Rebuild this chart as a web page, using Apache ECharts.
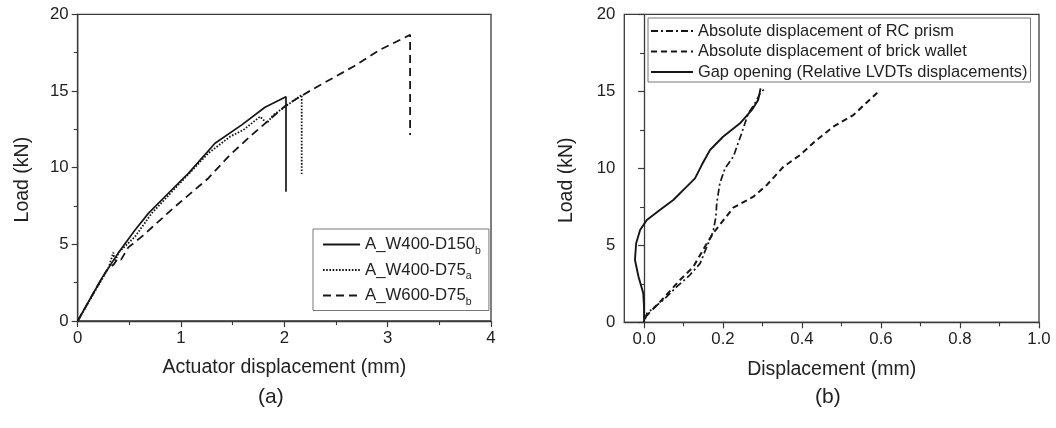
<!DOCTYPE html>
<html>
<head>
<meta charset="utf-8">
<script src="https://cdn.jsdelivr.net/npm/echarts@6/dist/echarts.min.js"></script>
<style>
  html, body { margin: 0; padding: 0; background: #fff; }
  #chart { width: 1056px; height: 428px; }
</style>
</head>
<body>
<div id="chart"></div>
<script>
// ---------- Panel (a): Load vs actuator displacement ----------
const namesA = ['A_W400-D150b', 'A_W400-D75a', 'A_W600-D75b'];
const legendBaseA = ['A_W400-D150', 'A_W400-D75', 'A_W600-D75'];
const legendSubA = ['b', 'a', 'b'];

const a1X = [0, 0.232, 0.39, 0.555, 0.684, 0.877, 1.071, 1.329, 1.588, 1.813, 2.016, 2.016];
const a1Y = [0, 2.78, 4.41, 5.94, 7.02, 8.33, 9.63, 11.59, 12.79, 13.94, 14.63, 8.43];

const a2X = [0, 0.15, 0.25, 0.30, 0.345, 0.36, 0.40, 0.555, 0.716, 0.942, 1.264, 1.474, 1.603, 1.765, 1.80, 1.83, 1.894, 2.168, 2.168];
const a2Y = [0, 1.75, 2.9, 3.5, 4.46, 3.9, 4.5, 5.5, 7.02, 8.65, 10.94, 12.02, 12.46, 13.33, 13.1, 12.9, 13.44, 14.74, 9.59];

const a3X = [0, 0.15, 0.28, 0.35, 0.39, 0.42, 0.49, 0.62, 0.942, 1.264, 1.474, 1.684, 2.02, 2.25, 2.67, 2.93, 3.217, 3.217];
const a3Y = [0, 1.8, 3.3, 3.7, 4.09, 4.0, 4.8, 5.5, 7.46, 9.31, 10.83, 12.13, 14.09, 15.02, 16.6, 17.7, 18.66, 12.13];

// ---------- Panel (b): Load vs displacement ----------
const namesB = ['Absolute displacement of RC prism', 'Absolute displacement of brick wallet', 'Gap opening (Relative LVDTs displacements)'];

const b1X = [0.003, 0.007, 0.049, 0.083, 0.116, 0.142, 0.159, 0.175, 0.182, 0.184, 0.192, 0.205, 0.226, 0.247, 0.264, 0.281, 0.294, 0.306];
const b1Y = [0.2, 0.58, 1.45, 2.31, 3.07, 3.83, 4.91, 5.9, 6.86, 7.73, 9.03, 10.0, 10.75, 12.27, 13.57, 14.22, 14.87, 15.19];

const b2X = [0.004, 0.049, 0.091, 0.125, 0.154, 0.175, 0.2, 0.226, 0.277, 0.311, 0.353, 0.395, 0.437, 0.479, 0.53, 0.596];
const b2Y = [0.36, 1.56, 2.75, 3.61, 4.91, 5.78, 6.6, 7.44, 8.16, 8.92, 10.1, 10.86, 11.84, 12.7, 13.46, 15.04];

const b3X = [0, 0, -0.002, -0.014, -0.023, -0.02, -0.01, 0.007, 0.04, 0.074, 0.108, 0.129, 0.146, 0.167, 0.2, 0.243, 0.273, 0.289, 0.295];
const b3Y = [0, 1.0, 1.88, 2.96, 4.05, 5.13, 5.99, 6.64, 7.29, 7.94, 8.81, 9.35, 10.21, 11.19, 12.05, 12.92, 13.79, 14.44, 15.19];

// ---------- Axis ticks ----------
const ticksXB = [0, 0.2, 0.4, 0.6, 0.8, 1.0];
const minorTicksXB = [0.1, 0.3, 0.5, 0.7, 0.9];

const zip = (xs, ys) => xs.map((x, i) => [x, ys[i]]);

const FONT = '"Liberation Sans", Arial, Helvetica, sans-serif';
const INK = '#161616';
const AXIS = '#3a3a3a';

const axisLineStyle = { show: true, lineStyle: { color: AXIS, width: 1.3 } };
const tickLabel = { color: '#222', fontSize: 16.8, fontFamily: FONT, margin: 9 };
const nameStyle = { color: '#222', fontSize: 19.5, fontFamily: FONT };

function valueY(gridIndex, nameGap) {
  return {
    type: 'value', gridIndex, min: 0, max: 20, interval: 5,
    name: 'Load (kN)', nameLocation: 'middle', nameGap,
    nameTextStyle: Object.assign({ padding: [0, 24, 0, 0] }, nameStyle),
    axisLine: axisLineStyle,
    axisTick: { show: true, length: 6, lineStyle: { color: AXIS, width: 1.2 } },
    minorTick: { show: true, splitNumber: 2, length: 4, lineStyle: { color: AXIS, width: 1.1 } },
    axisLabel: tickLabel,
    splitLine: { show: false }
  };
}

const chart = echarts.init(document.getElementById('chart'), null, { renderer: 'canvas' });

const richA = {
  n: { fontSize: 16.8, fontFamily: FONT, color: '#222', lineHeight: 20 },
  s: { fontSize: 10.5, fontFamily: FONT, color: '#222', lineHeight: 20, verticalAlign: 'bottom', padding: [0, 0, -2, 0] }
};

const legendHideSymbol = { opacity: 0, borderWidth: 0 };

const option = {
  animation: false,
  backgroundColor: '#fff',
  grid: [
    { left: 77.7, right: 565, top: 14.3, bottom: 107, show: true, borderColor: AXIS, borderWidth: 1.3, backgroundColor: 'transparent' },
    { left: 624.3, right: 17, top: 14.3, bottom: 105.7, show: true, borderColor: AXIS, borderWidth: 1.3, backgroundColor: 'transparent' }
  ],
  xAxis: [
    {
      type: 'value', gridIndex: 0, min: 0, max: 4, interval: 1,
      name: 'Actuator displacement (mm)', nameLocation: 'middle', nameGap: 37,
      nameTextStyle: nameStyle,
      axisLine: axisLineStyle,
      axisTick: { show: true, length: 6, lineStyle: { color: AXIS, width: 1.2 } },
      minorTick: { show: true, splitNumber: 2, length: 4, lineStyle: { color: AXIS, width: 1.1 } },
      axisLabel: tickLabel,
      splitLine: { show: false }
    },
    {
      type: 'value', gridIndex: 1, min: -0.05, max: 1.0,
      name: 'Displacement (mm)', nameLocation: 'middle', nameGap: 37,
      nameTextStyle: nameStyle,
      axisLine: axisLineStyle,
      axisTick: { show: true, length: 6, customValues: ticksXB, lineStyle: { color: AXIS, width: 1.2 } },
      axisLabel: Object.assign({ customValues: ticksXB, formatter: v => Number(v).toFixed(1) }, tickLabel),
      splitLine: { show: false }
    },
    {
      type: 'value', gridIndex: 1, min: -0.05, max: 1.0, position: 'bottom',
      axisLine: { show: false },
      axisTick: { show: true, length: 4, customValues: minorTicksXB, lineStyle: { color: AXIS, width: 1.1 } },
      axisLabel: { show: false, customValues: minorTicksXB },
      splitLine: { show: false }
    }
  ],
  yAxis: [valueY(0, 45), valueY(1, 48)],
  legend: [
    {
      data: namesA, orient: 'vertical', left: 313, top: 229,
      padding: [7, 8, 3, 9], itemGap: 5, itemWidth: 37, itemHeight: 14,
      borderColor: '#777', borderWidth: 1, backgroundColor: '#fff',
      itemStyle: legendHideSymbol,
      textStyle: { fontSize: 16.8, fontFamily: FONT, color: '#222', rich: richA },
      formatter: name => {
        const i = namesA.indexOf(name);
        return '{n|' + legendBaseA[i] + '}{s|' + legendSubA[i] + '}';
      }
    },
    {
      data: namesB, orient: 'vertical', left: 648, top: 18,
      padding: [4, 3, 1, 2], itemGap: 2.5, itemWidth: 42, itemHeight: 14,
      borderColor: '#777', borderWidth: 1, backgroundColor: '#fff',
      itemStyle: legendHideSymbol,
      textStyle: { fontSize: 16.4, fontFamily: FONT, color: '#222', lineHeight: 18 }
    }
  ],
  graphic: [
    { type: 'text', left: 258, top: 387, style: { text: '(a)', fontSize: 21, fontFamily: FONT, fill: '#222' } },
    { type: 'text', left: 815, top: 387, style: { text: '(b)', fontSize: 21, fontFamily: FONT, fill: '#222' } }
  ],
  series: [
    { name: namesA[0], type: 'line', xAxisIndex: 0, yAxisIndex: 0, data: zip(a1X, a1Y), symbol: 'none', smooth: false,
      lineStyle: { color: INK, width: 1.7, type: 'solid' }, itemStyle: { color: INK } },
    { name: namesA[1], type: 'line', xAxisIndex: 0, yAxisIndex: 0, data: zip(a2X, a2Y), symbol: 'none',
      lineStyle: { color: INK, width: 1.8, type: [1.6, 1.6] }, itemStyle: { color: INK } },
    { name: namesA[2], type: 'line', xAxisIndex: 0, yAxisIndex: 0, data: zip(a3X, a3Y), symbol: 'none',
      lineStyle: { color: INK, width: 1.8, type: [8, 5] }, itemStyle: { color: INK } },
    { name: namesB[0], type: 'line', xAxisIndex: 1, yAxisIndex: 1, data: zip(b1X, b1Y), symbol: 'none', clip: false,
      lineStyle: { color: INK, width: 1.7, type: [7, 3, 2, 3] }, itemStyle: { color: INK } },
    { name: namesB[1], type: 'line', xAxisIndex: 1, yAxisIndex: 1, data: zip(b2X, b2Y), symbol: 'none', clip: false,
      lineStyle: { color: INK, width: 2, type: [6, 4] }, itemStyle: { color: INK } },
    { name: namesB[2], type: 'line', xAxisIndex: 1, yAxisIndex: 1, data: zip(b3X, b3Y), symbol: 'none', clip: false,
      lineStyle: { color: INK, width: 1.9, type: 'solid' }, itemStyle: { color: INK } }
  ]
};

chart.setOption(option);
</script>
</body>
</html>
